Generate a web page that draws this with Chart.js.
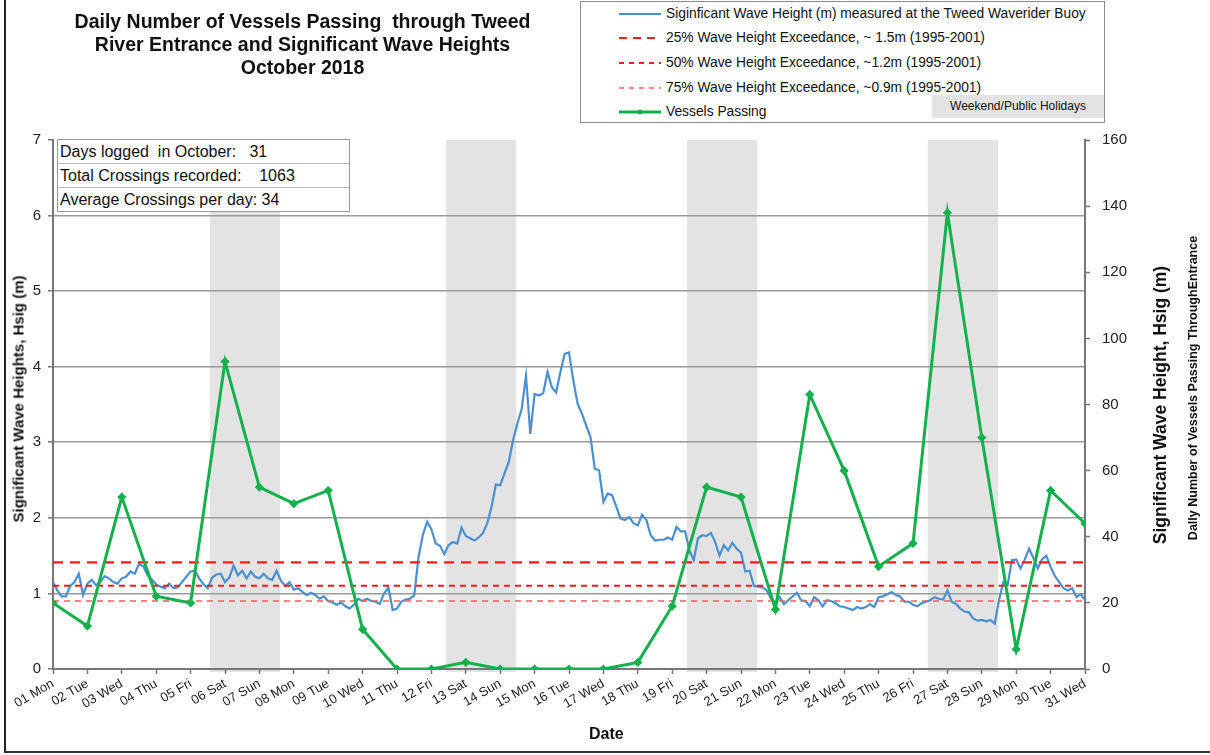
<!DOCTYPE html>
<html>
<head>
<meta charset="utf-8">
<script src="https://cdn.jsdelivr.net/npm/chart.js@4.4.1/dist/chart.umd.min.js"></script>
<style>
  html, body { margin: 0; padding: 0; background: #fff; }
  body { width: 1210px; height: 755px; position: relative; overflow: hidden; font-family: Arial, "Liberation Sans", sans-serif; color: #111; }
  #wrap { position: absolute; left: 0; top: 0; width: 1210px; height: 755px; }
  .abs { position: absolute; white-space: pre; }
  #frameL { position: absolute; left: 4px; top: 0; width: 2px; height: 753px; background: #222; }
  #frameB { position: absolute; left: 4px; top: 751px; width: 1206px; height: 2px; background: #333; }
  #title { left: 20px; top: 10px; width: 565px; text-align: center; font-weight: bold; font-size: 19.5px; line-height: 23px; }
  #legend { position: absolute; left: 580px; top: 1px; width: 525px; height: 122px; border: 1.5px solid #8a8a8a; box-sizing: border-box; background: #fff; }
  .lrow { position: absolute; left: 0; height: 20px; font-size: 13.8px; line-height: 20px; }
  .lrow svg { position: absolute; left: 38px; top: 0; }
  .lrow span { position: absolute; left: 85px; white-space: pre; }
  #wk { position: absolute; left: 351px; top: 93px; width: 172px; height: 23px; background: #e3e3e3; font-size: 12px; line-height: 23px; text-align: center; }
  #info { position: absolute; left: 57px; top: 139px; width: 293px; border: 1.5px solid #999; box-sizing: border-box; background: #fff; font-size: 16px; }
  #info div { height: 23px; line-height: 23px; padding-left: 2px; white-space: pre; border-bottom: 1px solid #bbb; }
  #info div:last-child { border-bottom: none; }
  .rot { position: absolute; transform: translate(-50%, -50%) rotate(-90deg); white-space: pre; font-weight: bold; }
</style>
</head>
<body>
<div id="wrap"><canvas id="c" width="1210" height="755"></canvas></div>
<div id="frameL"></div>
<div id="frameB"></div>
<div id="title" class="abs">Daily Number of Vessels Passing  through Tweed
River Entrance and Significant Wave Heights
October 2018</div>

<div id="legend">
  <div class="lrow" style="top:2px"><svg width="44" height="20"><line x1="0" y1="10" x2="42" y2="10" stroke="#4a90d0" stroke-width="2"/></svg><span>Siginficant Wave Height (m) measured at the Tweed Waverider Buoy</span></div>
  <div class="lrow" style="top:26px"><svg width="44" height="20"><line x1="0" y1="10" x2="42" y2="10" stroke="#ff1a1a" stroke-width="2" stroke-dasharray="8,6"/></svg><span>25% Wave Height Exceedance, ~ 1.5m (1995-2001)</span></div>
  <div class="lrow" style="top:51px"><svg width="44" height="20"><line x1="0" y1="10" x2="42" y2="10" stroke="#ff1a1a" stroke-width="2" stroke-dasharray="5,5"/></svg><span>50% Wave Height Exceedance, ~1.2m (1995-2001)</span></div>
  <div class="lrow" style="top:76px"><svg width="44" height="20"><line x1="0" y1="10" x2="42" y2="10" stroke="#ff6060" stroke-width="1.5" stroke-dasharray="5,5"/></svg><span>75% Wave Height Exceedance, ~0.9m (1995-2001)</span></div>
  <div class="lrow" style="top:100px"><svg width="44" height="20"><line x1="0" y1="10" x2="42" y2="10" stroke="#14b04c" stroke-width="3"/><circle cx="21" cy="10" r="2.5" fill="#14b04c"/></svg><span>Vessels Passing</span></div>
  <div id="wk">Weekend/Public Holidays</div>
</div>

<div id="info">
  <div>Days logged  in October:   31</div>
  <div>Total Crossings recorded:    1063</div>
  <div>Average Crossings per day: 34</div>
</div>

<div class="rot" style="left:18px; top:399px; font-size:15px;">Significant Wave Heights, Hsig (m)</div>
<div class="rot" style="left:1160px; top:405px; font-size:17.5px;">Significant Wave Height, Hsig (m)</div>
<div class="rot" style="left:1193px; top:388px; font-size:12.5px;">Dally Number of Vessels Passing ThroughEntrance</div>
<div class="abs" style="left:589px; top:725px; font-size:16px; font-weight:bold;">Date</div>

<script>
// ---- Data ----
const dayLabels = ["01 Mon","02 Tue","03 Wed","04 Thu","05 Fri","06 Sat","07 Sun","08 Mon","09 Tue","10 Wed",
  "11 Thu","12 Fri","13 Sat","14 Sun","15 Mon","16 Tue","17 Wed","18 Thu","19 Fri","20 Sat",
  "21 Sun","22 Mon","23 Tue","24 Wed","25 Thu","26 Fri","27 Sat","28 Sun","29 Mon","30 Tue","31 Wed"];
const vesselDays = [1,2,3,4,5,6,7,8,9,10,11,12,13,14,15,16,17,18,19,20,21,22,23,24,25,26,27,28,29,30,31];
const vesselCounts = [20,13,52,22,20,93,55,50,54,12,0,0,2,0,0,0,0,2,19,55,52,18,83,60,31,38,138,70,6,54,44];
// Significant wave height, 3-hourly from 01 Oct 00:00 (8 values per day)
const waveHeights = [
  1.15,1.04,0.96,0.96,1.10,1.15,1.26,0.98,
  1.13,1.18,1.11,1.15,1.23,1.20,1.15,1.13,
  1.20,1.22,1.29,1.26,1.39,1.36,1.24,1.18,
  1.12,1.09,1.07,1.13,1.07,1.08,1.15,1.22,
  1.29,1.30,1.20,1.12,1.07,1.21,1.25,1.26,
  1.15,1.21,1.37,1.24,1.30,1.20,1.29,1.22,
  1.20,1.26,1.20,1.18,1.30,1.17,1.10,1.15,
  1.05,1.07,1.02,0.98,1.01,0.98,0.93,0.96,
  0.90,0.88,0.85,0.88,0.83,0.80,0.85,0.93,
  0.90,0.93,0.90,0.89,0.86,1.00,1.08,0.78,
  0.80,0.89,0.92,0.93,0.97,1.48,1.77,1.95,
  1.85,1.66,1.63,1.52,1.64,1.68,1.66,1.87,
  1.76,1.73,1.70,1.74,1.80,1.93,2.15,2.44,
  2.43,2.59,2.74,3.03,3.25,3.44,3.88,3.11,
  3.64,3.62,3.65,3.93,3.73,3.66,3.93,4.17,
  4.19,3.82,3.51,3.38,3.22,3.07,2.65,2.63,
  2.21,2.32,2.30,2.15,1.99,1.97,2.01,1.93,
  1.90,2.04,1.97,1.77,1.70,1.71,1.71,1.74,
  1.71,1.88,1.82,1.82,1.57,1.44,1.73,1.77,
  1.76,1.80,1.68,1.50,1.64,1.57,1.67,1.59,
  1.54,1.29,1.30,1.10,1.09,1.08,1.04,0.93,
  0.88,0.95,0.86,0.91,0.96,1.01,0.91,0.90,
  0.83,0.95,0.91,0.83,0.91,0.90,0.87,0.83,
  0.82,0.80,0.78,0.82,0.80,0.82,0.86,0.82,
  0.95,0.96,0.99,1.02,0.98,0.96,0.89,0.89,
  0.85,0.83,0.87,0.89,0.91,0.95,0.93,0.92,
  1.04,0.89,0.86,0.80,0.76,0.75,0.67,0.64,
  0.65,0.63,0.65,0.60,0.91,1.15,1.11,1.44,
  1.45,1.33,1.45,1.59,1.47,1.33,1.45,1.50,
  1.35,1.23,1.15,1.07,1.04,1.07,0.95,0.99,
  0.91
];
const exceedanceLevels = [1.41, 1.10, 0.90];
// Weekend shading bands (day positions on the x axis)
const weekendFrom = [5.56, 12.43, 19.43, 26.43];
const weekendTo   = [7.60, 14.46, 21.47, 28.47];
const leftTicks = [0,1,2,3,4,5,6,7];
const rightTicks = [0,20,40,60,80,100,120,140,160];

// ---- Build ----
const waveData = waveHeights.map((v, i) => ({ x: 1 + i / 8, y: v }));
const vesselData = vesselDays.map((d, i) => ({ x: d, y: vesselCounts[i] }));
const lvl = (v) => [{ x: 1, y: v }, { x: 31, y: v }];

const shadePlugin = {
  id: 'shade',
  beforeDraw(chart) {
    const { ctx, chartArea, scales } = chart;
    ctx.save();
    ctx.fillStyle = '#e3e3e3';
    weekendFrom.forEach((a, i) => {
      const x0 = scales.x.getPixelForValue(a);
      const x1 = scales.x.getPixelForValue(weekendTo[i]);
      ctx.fillRect(x0, chartArea.top, x1 - x0, chartArea.bottom - chartArea.top + 3);
    });
    ctx.restore();
  }
};

const tickFont = { family: 'Arial, "Liberation Sans", sans-serif', size: 15 };

new Chart(document.getElementById('c'), {
  type: 'scatter',
  data: {
    datasets: [
      { label: 'wave', data: waveData, showLine: true, borderColor: '#4a90d0', borderWidth: 2.2, pointRadius: 0, tension: 0, yAxisID: 'y', order: 4 },
      { label: '25%', data: lvl(exceedanceLevels[0]), showLine: true, borderColor: '#ff1a1a', borderWidth: 2.2, borderDash: [10, 7], pointRadius: 0, yAxisID: 'y', order: 3 },
      { label: '50%', data: lvl(exceedanceLevels[1]), showLine: true, borderColor: '#ff1a1a', borderWidth: 2, borderDash: [6, 5], pointRadius: 0, yAxisID: 'y', order: 3 },
      { label: '75%', data: lvl(exceedanceLevels[2]), showLine: true, borderColor: '#ff5a5a', borderWidth: 1.5, borderDash: [6, 5], pointRadius: 0, yAxisID: 'y', order: 3 },
      { label: 'vessels', data: vesselData, showLine: true, borderColor: '#14b04c', backgroundColor: '#14b04c', borderWidth: 3, pointRadius: 2.5, pointStyle: 'rectRot', tension: 0, yAxisID: 'y2', order: 1 }
    ]
  },
  options: {
    responsive: false,
    animation: false,
    events: [],
    layout: { padding: { top: 140, left: 0, right: 0, bottom: 0 } },
    plugins: { legend: { display: false }, tooltip: { enabled: false } },
    scales: {
      x: {
        type: 'linear', min: 1, max: 31,
        afterBuildTicks(scale) { scale.ticks = vesselDays.map(d => ({ value: d })); },
        afterFit(scale) { scale.height = 86; },
        ticks: {
          autoSkip: false, maxRotation: 30, minRotation: 30, padding: 2,
          font: { family: 'Arial, "Liberation Sans", sans-serif', size: 13 }, color: '#222',
          callback: (v) => dayLabels[Math.round(v) - 1]
        },
        grid: { drawOnChartArea: false, drawTicks: true, tickLength: 5, tickColor: '#777', tickWidth: 1.5 },
        border: { display: true, color: '#777', width: 2 }
      },
      y: {
        position: 'left', min: 0, max: 7,
        afterBuildTicks(scale) { scale.ticks = leftTicks.map(v => ({ value: v })); },
        afterFit(scale) { scale.width = 53; },
        ticks: { padding: 7, font: tickFont, color: '#222' },
        grid: {
          color: (c) => (c.tick && (c.tick.value === 0 || c.tick.value === 7)) ? 'rgba(0,0,0,0)' : '#9a9a9a',
          lineWidth: 1.6, tickLength: 5, tickColor: '#777', tickWidth: 1.5
        },
        border: { display: true, color: '#777', width: 2 }
      },
      y2: {
        position: 'right', min: 0, max: 160,
        afterBuildTicks(scale) { scale.ticks = rightTicks.map(v => ({ value: v })); },
        afterFit(scale) { scale.width = 125; },
        ticks: { padding: 12, font: tickFont, color: '#222' },
        grid: { drawOnChartArea: false, tickLength: 5, tickColor: '#777', tickWidth: 1.5 },
        border: { display: true, color: '#777', width: 2 }
      }
    }
  },
  plugins: [shadePlugin]
});
</script>
</body>
</html>
